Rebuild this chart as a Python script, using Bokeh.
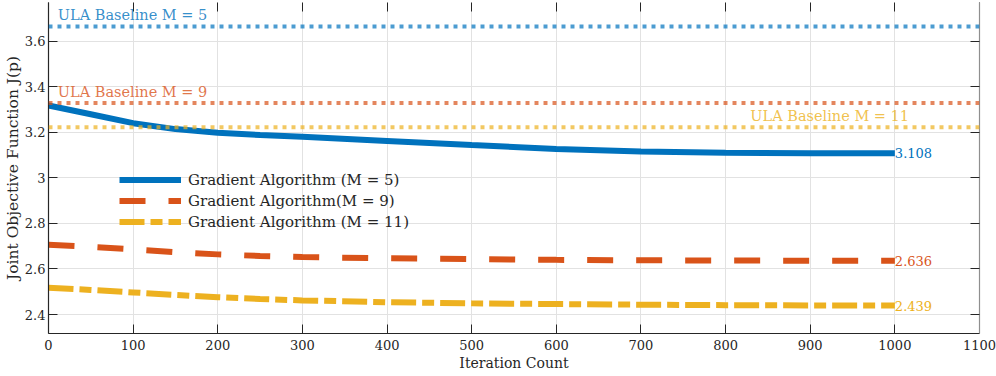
from bokeh.plotting import figure
from bokeh.models import (Range1d, LinearAxis, FixedTicker, Span, Legend, LegendItem,
                          ColumnDataSource, Label, CustomLabelingPolicy)
from bokeh.embed import file_html
from bokeh.resources import INLINE

# ---------------- data ----------------
iterations = [0, 50, 100, 150, 200, 250, 300, 400, 500, 600, 700, 800, 900, 1000]
grad_m5 = [3.318, 3.279, 3.240, 3.214, 3.198, 3.188, 3.180, 3.162, 3.144, 3.127, 3.116, 3.110, 3.108, 3.108]
grad_m9 = [2.706, 2.697, 2.686, 2.674, 2.664, 2.657, 2.652, 2.647, 2.643, 2.640, 2.638, 2.637, 2.636, 2.636]
grad_m11 = [2.518, 2.508, 2.497, 2.486, 2.476, 2.468, 2.462, 2.454, 2.449, 2.446, 2.443, 2.441, 2.440, 2.439]
baseline_values = [3.665, 3.329, 3.222]
baseline_labels = ["ULA Baseline M = 5", "ULA Baseline M = 9", "ULA Baseline M = 11"]
series_labels = ["Gradient Algorithm (M = 5)", "Gradient Algorithm(M = 9)", "Gradient Algorithm (M = 11)"]
final_labels = ["3.108", "2.636", "2.439"]
x_ticks = [0, 100, 200, 300, 400, 500, 600, 700, 800, 900, 1000, 1100]
y_ticks = [2.4, 2.6, 2.8, 3.0, 3.2, 3.4, 3.6]

FONT = "DejaVu Serif"
BLUE, RED, YEL = "#0072BD", "#D95319", "#EDB120"
TXT = "#262626"

p = figure(width=996, height=376, output_backend="svg", toolbar_location=None,
           x_range=Range1d(0, 1100), y_range=Range1d(2.3166, 3.7699),
           min_border_left=46, min_border_right=17, min_border_top=2, min_border_bottom=43)
p.outline_line_color = None
p.background_fill_color = "white"
p.border_fill_color = "white"

# grids
p.xgrid.ticker = FixedTicker(ticks=x_ticks)
p.ygrid.ticker = FixedTicker(ticks=y_ticks)
for g in (p.xgrid, p.ygrid):
    g.grid_line_color = "#e2e2e2"
    g.grid_line_width = 1

no_labels = CustomLabelingPolicy(code="return new indices.constructor(indices.size, 0)")

def style_axis(ax, labels=True, line_color=TXT):
    ax.axis_line_color = line_color
    ax.axis_line_width = 1.2
    ax.major_tick_in = 9
    ax.major_tick_out = 0
    ax.major_tick_line_color = TXT
    ax.minor_tick_line_color = None
    ax.major_label_text_font = FONT
    ax.major_label_text_color = TXT
    ax.major_label_text_font_size = "13px"
    if not labels:
        ax.major_label_policy = no_labels
        ax.major_label_text_font_size = "0px"
        ax.major_label_standoff = 0

style_axis(p.xaxis[0])
p.xaxis[0].ticker = FixedTicker(ticks=x_ticks)
p.xaxis[0].major_label_standoff = 6
p.xaxis[0].axis_label = "Iteration Count"
p.xaxis[0].axis_label_text_font = FONT
p.xaxis[0].axis_label_text_font_size = "14px"
p.xaxis[0].axis_label_text_font_style = "normal"
p.xaxis[0].axis_label_text_color = TXT
p.xaxis[0].axis_label_standoff = 2

style_axis(p.yaxis[0])
p.yaxis[0].ticker = FixedTicker(ticks=y_ticks)
p.yaxis[0].major_label_overrides = {3.0: "3"}
p.yaxis[0].major_label_standoff = 3
p.yaxis[0].axis_label = "Joint Objective Function J(p)"
p.yaxis[0].axis_label_text_font = FONT
p.yaxis[0].axis_label_text_font_size = "15.5px"
p.yaxis[0].axis_label_text_font_style = "normal"
p.yaxis[0].axis_label_text_color = TXT
p.yaxis[0].axis_label_standoff = 0

top_ax = LinearAxis(ticker=FixedTicker(ticks=x_ticks))
style_axis(top_ax, labels=False, line_color=None)
p.add_layout(top_ax, "above")
right_ax = LinearAxis(ticker=FixedTicker(ticks=y_ticks))
style_axis(right_ax, labels=False, line_color="#8f8f8f")
p.add_layout(right_ax, "right")

# baselines
base_colors = [BLUE, RED, YEL]
for v, c in zip(baseline_values, base_colors):
    p.add_layout(Span(location=v, dimension="width", line_color=c, line_alpha=0.7,
                      line_width=4, line_dash="4 5"))

# baseline labels
lab_x = [11, 11, 923]
lab_align = ["left", "left", "center"]
for v, c, t, lx, al in zip(baseline_values, base_colors, baseline_labels, lab_x, lab_align):
    p.add_layout(Label(x=lx, y=v, text=t, text_color=c, text_alpha=0.8, text_font=FONT,
                       text_font_size="14.5px", text_align=al, text_baseline="middle",
                       y_offset=11))

# gradient curves
src = ColumnDataSource(dict(x=iterations, m5=grad_m5, m9=grad_m9, m11=grad_m11))
r1 = p.line("x", "m5", source=src, line_color=BLUE, line_width=6)
r2 = p.line("x", "m9", source=src, line_color=RED, line_width=6, line_dash="26 23")
r3 = p.line("x", "m11", source=src, line_color=YEL, line_width=6, line_dash="25 6 12 6")

# final value labels
finals = [grad_m5[-1], grad_m9[-1], grad_m11[-1]]
for v, c, t in zip(finals, base_colors, final_labels):
    p.add_layout(Label(x=iterations[-1], y=v, text=t, text_color=c, text_font=FONT,
                       text_font_size="13px", text_align="left", text_baseline="middle",
                       x_offset=0))

legend = Legend(items=[LegendItem(label=series_labels[0], renderers=[r1]),
                       LegendItem(label=series_labels[1], renderers=[r2]),
                       LegendItem(label=series_labels[2], renderers=[r3])],
                location=(71, 101), padding=0, margin=0, spacing=0,
                glyph_width=62, glyph_height=21, label_height=21, label_standoff=7,
                border_line_color=None, background_fill_alpha=0,
                label_text_font=FONT, label_text_font_size="15px", label_text_color=TXT)
p.add_layout(legend, "center")

open("out.html", "w").write(file_html(p, INLINE))
